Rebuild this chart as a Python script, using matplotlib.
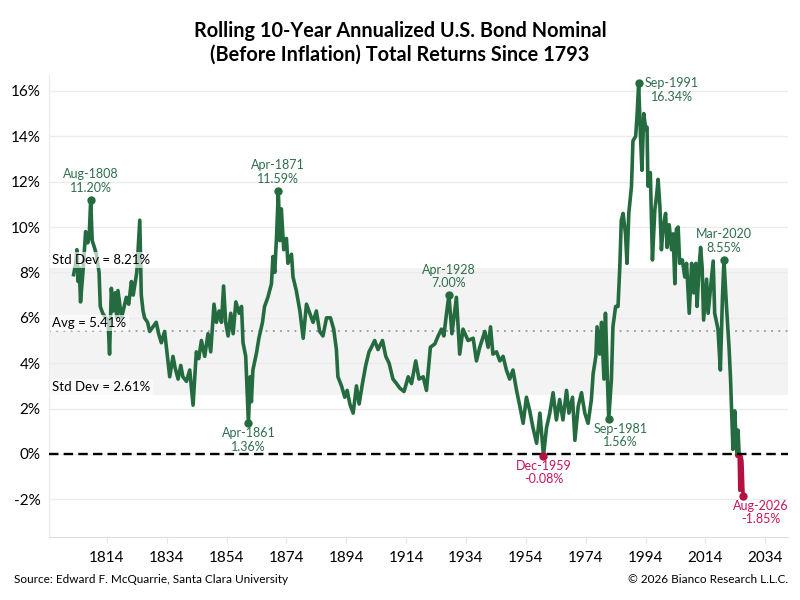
import matplotlib.pyplot as plt
from matplotlib.patches import Rectangle

plt.rcParams['font.family'] = ['Lato', 'DejaVu Sans']

# rolling 10-year annualized return (%)
years = [1802.9, 1803.6, 1804.0, 1804.4, 1804.8, 1805.2, 1806.0, 1806.9, 1807.6, 1808.1,
         1808.6, 1809.1, 1809.6, 1810.5, 1811.4, 1811.8, 1812.6, 1813.6, 1814.4, 1814.9,
         1815.5, 1816.1, 1816.8, 1817.3, 1817.7, 1818.9, 1819.6, 1820.5, 1821.3, 1822.2,
         1822.8, 1824.0, 1825.0, 1825.5, 1826.1, 1826.6, 1827.6, 1828.3, 1829.4, 1830.5,
         1831.3, 1832.2, 1833.3, 1835.0, 1836.1, 1836.8, 1837.8, 1838.7, 1839.4, 1840.6,
         1841.7, 1842.8, 1843.9, 1844.7, 1845.6, 1846.7, 1847.8, 1848.7, 1849.8, 1850.6,
         1851.5, 1852.3, 1853.0, 1853.7, 1854.5, 1855.4, 1856.2, 1857.1, 1858.2, 1859.0,
         1859.5, 1860.4, 1861.3, 1861.9, 1862.3, 1862.8, 1864.0, 1864.8, 1866.0, 1866.7,
         1867.8, 1869.0, 1869.5, 1870.1, 1870.7, 1871.3, 1871.8, 1872.3, 1873.1, 1874.0,
         1874.5, 1875.7, 1876.2, 1877.3, 1878.5, 1879.6, 1880.7, 1881.8, 1882.9, 1884.0,
         1885.1, 1886.2, 1887.4, 1888.7, 1889.8, 1890.7, 1891.2, 1892.4, 1893.5, 1894.3,
         1895.2, 1896.3, 1897.4, 1898.3, 1899.4, 1900.5, 1901.6, 1902.4, 1903.5, 1904.6,
         1906.1, 1907.2, 1908.3, 1909.6, 1910.8, 1911.9, 1913.3, 1914.7, 1915.8, 1917.2,
         1918.3, 1919.7, 1920.8, 1922.1, 1923.6, 1924.7, 1925.8, 1926.6, 1927.5, 1928.3,
         1929.3, 1930.8, 1931.9, 1933.0, 1934.7, 1936.4, 1937.5, 1938.6, 1940.3, 1941.4,
         1942.2, 1943.0, 1944.2, 1945.3, 1946.4, 1947.5, 1948.6, 1949.7, 1950.9, 1952.0,
         1953.1, 1954.2, 1955.3, 1956.4, 1957.6, 1958.7, 1959.9, 1960.9, 1962.0, 1963.1,
         1964.2, 1965.3, 1966.4, 1967.6, 1968.4, 1969.6, 1970.4, 1971.5, 1972.6, 1973.7,
         1974.8, 1975.9, 1976.5, 1977.4, 1977.8, 1978.7, 1979.3, 1980.1, 1980.6, 1981.2,
         1981.7, 1982.6, 1983.1, 1984.0, 1984.8, 1985.4, 1985.9, 1986.5, 1987.3, 1987.8,
         1988.4, 1989.3, 1989.8, 1990.7, 1991.2, 1991.7, 1992.3, 1992.8, 1993.4, 1994.1,
         1994.5, 1994.8, 1995.6, 1996.3, 1997.1, 1997.7, 1998.2, 1998.8, 1999.3, 1999.9,
         2000.7, 2001.2, 2001.9, 2002.7, 2003.2, 2003.8, 2004.3, 2004.9, 2005.4, 2006.3,
         2007.1, 2007.7, 2008.6, 2009.4, 2010.1, 2010.8, 2011.2, 2011.9, 2012.4, 2012.9,
         2013.4, 2014.4, 2014.9, 2016.0, 2016.6, 2017.1, 2018.2, 2019.0, 2019.7, 2020.2,
         2021.0, 2021.9, 2022.4, 2022.9, 2023.2, 2023.8, 2024.2, 2024.6, 2024.9, 2025.3,
         2025.5, 2025.7, 2026.2, 2026.6]
vals = [7.9, 8.4, 9.0, 7.6, 8.2, 6.7, 8.0, 9.8, 9.3, 9.6,
        11.20, 9.4, 9.2, 8.8, 8.0, 6.5, 6.2, 6.0, 5.9, 4.4,
        7.3, 6.3, 7.1, 6.0, 7.2, 6.0, 6.4, 6.9, 6.6, 7.6,
        7.0, 8.0, 10.3, 7.0, 6.3, 6.0, 5.8, 5.4, 5.6, 5.8,
        5.3, 4.9, 5.4, 3.4, 4.3, 3.8, 3.3, 3.9, 3.4, 3.2,
        3.7, 2.15, 4.5, 4.2, 5.0, 4.3, 5.3, 4.5, 6.6, 5.8,
        6.3, 5.8, 7.4, 5.8, 5.2, 6.2, 5.3, 6.7, 6.2, 6.5,
        4.9, 4.3, 1.36, 3.4, 2.3, 3.7, 4.45, 5.1, 5.8, 6.5,
        6.9, 7.5, 8.7, 8.0, 9.6, 11.59, 9.4, 10.8, 9.0, 9.5,
        8.4, 8.8, 7.8, 7.2, 6.3, 5.1, 6.6, 6.2, 5.8, 6.3,
        5.4, 5.2, 6.0, 6.0, 5.5, 4.6, 3.4, 3.0, 2.5, 2.8,
        2.2, 1.8, 3.0, 2.2, 3.1, 3.9, 4.5, 4.7, 5.0, 4.6,
        5.0, 4.3, 4.0, 3.3, 3.1, 2.9, 2.75, 3.4, 3.1, 4.1,
        3.3, 3.4, 2.8, 4.7, 4.85, 5.2, 5.5, 5.2, 6.2, 7.00,
        5.3, 6.9, 4.4, 5.5, 5.0, 5.1, 4.1, 4.7, 5.4, 4.7,
        5.6, 4.4, 4.5, 4.1, 4.3, 3.7, 3.3, 3.7, 2.8, 2.1,
        1.35, 2.5, 1.9, 1.15, 0.47, 1.8, -0.08, 1.15, 1.8, 2.7,
        1.5, 2.4, 1.5, 2.8, 1.8, 2.5, 0.6, 2.1, 2.7, 1.8,
        1.35, 2.4, 3.55, 4.3, 5.6, 4.4, 5.8, 3.3, 6.2, 3.55,
        1.56, 3.3, 5.6, 6.5, 6.5, 8.25, 10.3, 10.6, 9.7, 8.4,
        10.6, 11.8, 13.8, 14.0, 15.0, 16.34, 14.0, 12.5, 15.0, 14.3,
        14.4, 11.8, 12.4, 8.55, 10.75, 11.4, 12.1, 10.9, 9.0, 10.0,
        10.6, 9.1, 10.1, 9.0, 9.7, 7.5, 9.9, 10.0, 8.4, 8.55,
        7.8, 8.4, 6.2, 8.4, 7.1, 8.4, 6.5, 8.25, 9.1, 8.25,
        5.9, 7.7, 6.2, 7.7, 8.5, 6.2, 5.5, 3.7, 6.9, 8.55,
        6.6, 4.7, 3.3, 1.35, 0.2, 1.9, 0.76, -0.1, 1.05, -0.1,
        -1.6, -0.05, -0.3, -1.85]

# labelled points
ann_years = [1808.6, 1871.3, 1861.3, 1928.3, 1959.9, 1981.7, 1991.7, 2020.2, 2026.6]
ann_vals = [11.20, 11.59, 1.36, 7.00, -0.08, 1.56, 16.34, 8.55, -1.85]
ann_names = ['Aug-1808', 'Apr-1871', 'Apr-1861', 'Apr-1928', 'Dec-1959',
             'Sep-1981', 'Sep-1991', 'Mar-2020', 'Aug-2026']
ann_pos = ['above', 'above', 'below', 'above', 'below', 'below', 'right', 'above', 'below']

avg = 5.41
sd_hi = 8.21
sd_lo = 2.61

green = '#256b40'
green_txt = '#2f6e4c'
red = '#b3113f'
red_txt = '#c4175a'

fig = plt.figure(figsize=(8, 6), dpi=100)
ax = fig.add_axes([0.061, 0.105, 0.924, 0.77])

xmin, xmax = 1794.6, 2041.6
ax.set_xlim(xmin, xmax)
ax.set_ylim(-3.66, 16.7)

ax.axhspan(sd_lo, sd_hi, color='#f3f3f3', zorder=0, lw=0)
ax.axhline(avg, color='#9a9a9a', lw=1.3, ls=(0, (1, 3)), zorder=1)

# green above zero, red below zero
lg, = ax.plot(years, vals, color=green, lw=2.6, zorder=3, solid_joinstyle='round')
lg.set_clip_path(Rectangle((xmin, 0), xmax - xmin, 50, transform=ax.transData))
lr, = ax.plot(years, vals, color=red, lw=2.6, zorder=3, solid_joinstyle='round')
lr.set_clip_path(Rectangle((xmin, -50), xmax - xmin, 50, transform=ax.transData))

ax.axhline(0, color='black', lw=1.7, dashes=(4, 2.2), zorder=4)

for yr, v, nm, pos in zip(ann_years, ann_vals, ann_names, ann_pos):
    c = red if v < 0 else green
    tc = red_txt if v < 0 else green_txt
    ax.plot(yr, v, 'o', color=c, ms=5, zorder=5)
    txt = '%s\n%.2f%%' % (nm, v)
    if pos == 'above':
        ax.annotate(txt, (yr, v), xytext=(0, 6), textcoords='offset pixels',
                    ha='center', va='bottom', fontsize=9, color=tc, linespacing=1.15)
    elif pos == 'below':
        dx = 0
        if nm == 'Sep-1981':
            dx = 12
        if nm == 'Aug-2026':
            dx = 18
        ax.annotate(txt, (yr, v), xytext=(dx, -4), textcoords='offset pixels',
                    ha='center', va='top', fontsize=9, color=tc, linespacing=1.15)
    else:
        ax.annotate(txt, (yr, v), xytext=(6, -7), textcoords='offset pixels',
                    ha='left', va='center', multialignment='center',
                    fontsize=9, color=tc, linespacing=1.15)

box = dict(facecolor='white', edgecolor='none', alpha=0.65, pad=1.5)
ax.text(xmin + 1.2, sd_hi + 0.08, 'Std Dev = %.2f%%' % sd_hi, fontsize=9.5,
        va='bottom', ha='left', bbox=box, zorder=6)
ax.text(xmin + 1.2, avg + 0.08, 'Avg = %.2f%%' % avg, fontsize=9.5,
        va='bottom', ha='left', bbox=box, zorder=6)
ax.text(xmin + 1.2, sd_lo + 0.08, 'Std Dev = %.2f%%' % sd_lo, fontsize=9.5,
        va='bottom', ha='left', bbox=box, zorder=6)

ax.set_yticks(range(-2, 17, 2))
ax.set_yticklabels(['%d%%' % t for t in range(-2, 17, 2)])
ax.set_xticks(range(1814, 2035, 20))
ax.grid(axis='y', color='#ececec', lw=1)
ax.set_axisbelow(True)
ax.tick_params(axis='y', length=0, labelsize=11, pad=6)
ax.tick_params(axis='x', length=4, color='#e6e6e6', labelsize=11, pad=6)

for s in ['top', 'right']:
    ax.spines[s].set_visible(False)
ax.spines['left'].set_color('#ebebeb')
ax.spines['bottom'].set_color('#dddddd')
ax.spines['bottom'].set_linestyle((0, (1, 1)))

fig.text(0.5, 0.893, 'Rolling 10-Year Annualized U.S. Bond Nominal\n(Before Inflation) Total Returns Since 1793',
         ha='center', va='bottom', fontsize=14.3, fontweight='bold', linespacing=1.2)
fig.text(0.018, 0.028, 'Source: Edward F. McQuarrie, Santa Clara University', fontsize=8.5)
fig.text(0.985, 0.028, '\u00a9 2026 Bianco Research L.L.C.', fontsize=8.5, ha='right')

fig.savefig('out.png', dpi=100)
